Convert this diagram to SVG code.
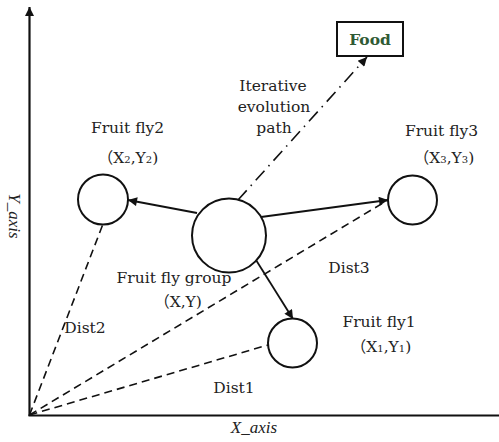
<svg xmlns="http://www.w3.org/2000/svg" width="499" height="442" viewBox="0 0 499 442">
  <style>
    .node { fill: #fff; stroke: #111; stroke-width: 2; }
    .lbl { font-family: "DejaVu Serif", "Liberation Serif", "Noto Sans CJK SC", serif; font-size: 15.5px; fill: #222; text-anchor: middle; }
    .sub { font-size: 10px; }
    .axis-lbl { font-family: "Liberation Serif", serif; font-style: italic; font-size: 17px; fill: #222; text-anchor: middle; }
    .axis { stroke: #111; stroke-width: 2.2; fill: none; }
    .move { stroke: #111; stroke-width: 1.8; fill: none; }
    .dist { stroke: #111; stroke-width: 1.6; fill: none; stroke-dasharray: 8 5; }
    .path { stroke: #111; stroke-width: 1.6; fill: none; stroke-dasharray: 13 6 1.5 6; }
  </style>
  <defs>
    <marker id="arrow" viewBox="0 0 10 10" refX="10" refY="5" markerWidth="11" markerHeight="9" markerUnits="userSpaceOnUse" orient="auto">
      <path d="M0,0 L10,5 L0,10 Z" fill="#111"/>
    </marker>
  </defs>

  <!-- axes -->
  <g id="axes">
    <line class="axis" x1="29.5" y1="416" x2="29.5" y2="7" marker-end="url(#arrow)"/>
    <line class="axis" x1="28.5" y1="415.5" x2="499" y2="415.5"/>
    <text class="axis-lbl" x="254" y="433">X_axis</text>
    <text class="axis-lbl" transform="translate(9,216) rotate(90)">Y_axis</text>
  </g>

  <!-- connectors -->
  <g id="connectors">
    <line class="dist" x1="29.5" y1="415" x2="103" y2="224"/>
    <line class="dist" x1="29.5" y1="415" x2="388" y2="200"/>
    <line class="dist" x1="29.5" y1="415" x2="268" y2="345"/>
    <line class="move" x1="197" y1="213" x2="128" y2="200" marker-end="url(#arrow)"/>
    <line class="move" x1="261" y1="217" x2="388" y2="200" marker-end="url(#arrow)"/>
    <line class="move" x1="256" y1="260" x2="293" y2="319" marker-end="url(#arrow)"/>
    <line class="path" x1="238" y1="200" x2="367" y2="57" marker-end="url(#arrow)"/>
    <text class="lbl" x="273" y="91">Iterative</text>
    <text class="lbl" x="274" y="112">evolution</text>
    <text class="lbl" x="274" y="133">path</text>
    <text class="lbl" x="85" y="333">Dist2</text>
    <text class="lbl" x="349" y="273">Dist3</text>
    <text class="lbl" x="234" y="393">Dist1</text>
  </g>

  <g id="food">
    <rect x="337" y="22" width="66" height="34" fill="#fff" stroke="#111" stroke-width="2"/>
    <text class="lbl" x="370" y="45" style="font-weight:bold;fill:#2f5a34;font-size:15.5px">Food</text>
  </g>

  <g id="fly-group">
    <circle class="node" cx="229" cy="235.5" r="37"/>
    <text class="lbl" x="174" y="283">Fruit fly group</text>
    <text class="lbl" x="178" y="307">（X,Y)</text>
  </g>

  <g id="fly2">
    <circle class="node" cx="103" cy="199.5" r="25"/>
    <text class="lbl" x="127.5" y="133">Fruit fly2</text>
    <text class="lbl" x="128" y="163">（X<tspan class="sub">2</tspan>,Y<tspan class="sub">2</tspan>)</text>
  </g>

  <g id="fly3">
    <circle class="node" cx="412.5" cy="200" r="24.5"/>
    <text class="lbl" x="441.5" y="136">Fruit fly3</text>
    <text class="lbl" x="444" y="163">（X<tspan class="sub">3</tspan>,Y<tspan class="sub">3</tspan>)</text>
  </g>

  <g id="fly1">
    <circle class="node" cx="292.5" cy="343" r="24.5"/>
    <text class="lbl" x="379" y="327">Fruit fly1</text>
    <text class="lbl" x="381" y="352">（X<tspan class="sub">1</tspan>,Y<tspan class="sub">1</tspan>)</text>
  </g>
</svg>
